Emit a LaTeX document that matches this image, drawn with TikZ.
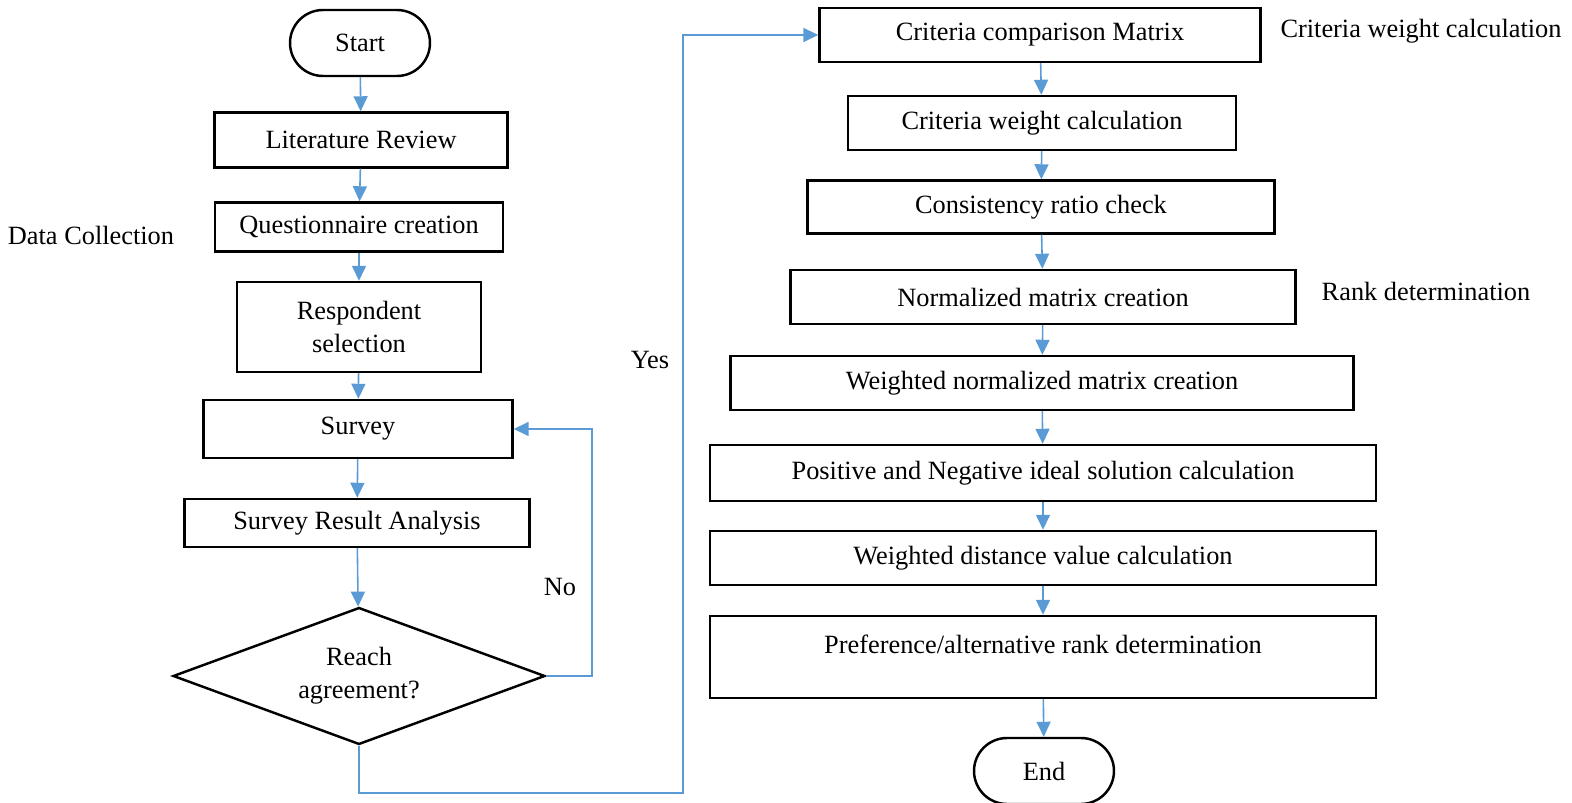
\documentclass[tikz,border=0pt]{standalone}
\usepackage{fontspec}
\setmainfont{Liberation Serif}
\usetikzlibrary{shapes.geometric,arrows.meta}
\definecolor{linkblue}{RGB}{91,155,213}

\begin{document}
\begin{tikzpicture}[x=0.02cm,y=-0.02cm,
  font=\fontsize{15}{19}\selectfont,
  box/.style={draw,line width=1.4pt,rectangle,inner sep=0pt,align=center},
  term/.style={box,minimum width=2.8cm,minimum height=1.32cm,rounded corners=0.66cm},
  decide/.style={draw,line width=1.4pt,diamond,shape aspect=2.7,inner sep=0pt,align=center,
    minimum width=7.44cm,minimum height=2.74cm},
  arr/.style={draw=linkblue,line width=0.9pt,-{Triangle[length=0.3cm,width=0.28cm]}}]

  \useasboundingbox (0,0) rectangle (1572,803);

  \node [term] (start) at (360,43) {Start};
  \node [box,minimum width=5.86cm,minimum height=1.1cm] (lit) at (361,140) {Literature Review};
  \node [box,minimum width=5.76cm,minimum height=0.98cm] (quest) at (359,227) {Questionnaire creation};
  \node [box,minimum width=4.88cm,minimum height=1.8cm] (resp) at (359,327) {Respondent\\selection};
  \node [box,minimum width=6.18cm,minimum height=1.16cm] (survey) at (358,429) {Survey};
  \node [box,minimum width=6.9cm,minimum height=0.96cm] (result) at (357,523) {Survey Result Analysis};
  \node [decide] (agree) at (359,676) {Reach\\agreement?};

  \node (datacol) at (91,235) {Data Collection};
  \node (yes) at (650,360) {Yes};
  \node (no) at (560,587) {No};

  \node [box,minimum width=8.82cm,minimum height=1.08cm] (compare) at (1040,35) {Criteria comparison Matrix};
  \node [box,minimum width=7.76cm,minimum height=1.08cm] (weight) at (1042,123) {Criteria weight calculation};
  \node [box,minimum width=9.34cm,minimum height=1.06cm] (ratio) at (1041,207) {Consistency ratio check};
  \node [box,minimum width=10.1cm,minimum height=1.08cm] (norm) at (1043,297) {Normalized matrix creation};
  \node [box,minimum width=12.46cm,minimum height=1.08cm] (wnorm) at (1042,383) {Weighted normalized matrix creation};
  \node [box,minimum width=13.32cm,minimum height=1.12cm] (ideal) at (1043,473) {Positive and Negative ideal solution calculation};
  \node [box,minimum width=13.32cm,minimum height=1.08cm] (dist) at (1043,558) {Weighted distance value calculation};
  \node [box,minimum width=13.32cm,minimum height=1.64cm,text depth=0.5cm] (rank) at (1043,657) {Preference/alternative rank determination};
  \node [term] (end) at (1044,771) {End};

  \node (weightlbl) at (1421,31) {Criteria weight calculation};
  \node (ranklbl) at (1426,291) {Rank determination};

  \coordinate (noturn) at (592,676);
  \coordinate (yesdown) at (359,793);
  \coordinate (yesturn) at (683,793);

  \draw [arr] (start) -- (lit);
  \draw [arr] (lit) -- (quest);
  \draw [arr] (quest) -- (resp);
  \draw [arr] (resp) -- (survey);
  \draw [arr] (survey) -- (result);
  \draw [arr] (result) -- (agree);
  \draw [arr] (agree.east) -- (noturn) |- (survey.east);
  \draw [arr] (agree.south) -- (yesdown) -- (yesturn) |- (compare.west);

  \draw [arr] (compare) -- (weight);
  \draw [arr] (weight) -- (ratio);
  \draw [arr] (ratio) -- (norm);
  \draw [arr] (norm) -- (wnorm);
  \draw [arr] (wnorm) -- (ideal);
  \draw [arr] (ideal) -- (dist);
  \draw [arr] (dist) -- (rank);
  \draw [arr] (rank) -- (end);
\end{tikzpicture}
\end{document}
